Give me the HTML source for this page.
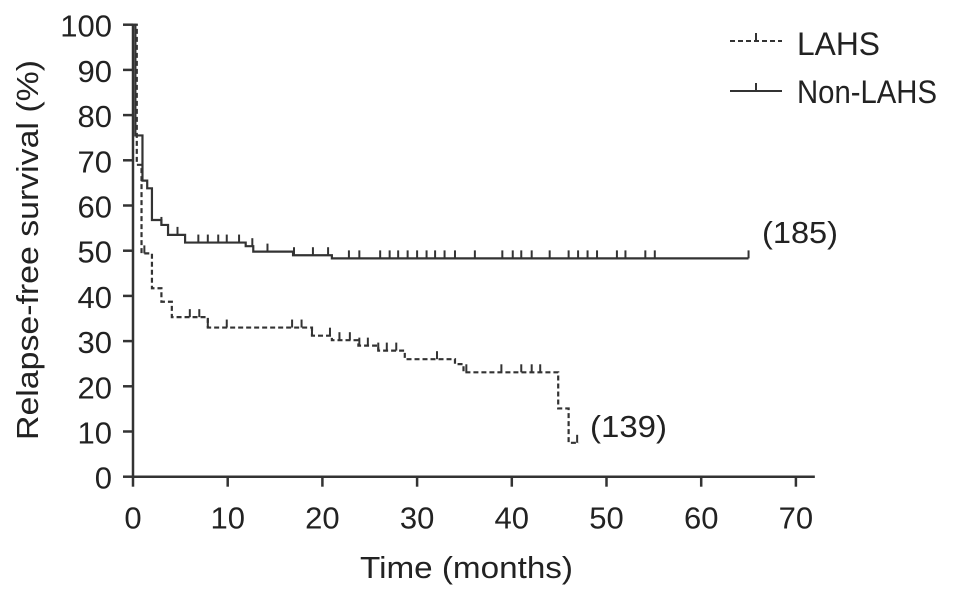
<!DOCTYPE html>
<html><head><meta charset="utf-8"><style>
html,body{margin:0;padding:0;background:#fff;}
svg{display:block;font-family:"Liberation Sans",Arial,sans-serif;}
</style></head><body>
<svg id="chart" width="969" height="598" viewBox="0 0 969 598">
<g id="axes"></g>
<g id="series"></g>
<g>
 <g>
  <line x1="730" y1="41" x2="782" y2="41" stroke="#333" stroke-width="2" stroke-dasharray="5,3"/>
  <line x1="756" y1="41" x2="756" y2="33" stroke="#333" stroke-width="2"/>
  <text x="797" y="55" font-size="32" fill="#222" textLength="83" lengthAdjust="spacingAndGlyphs">LAHS</text>
 </g>
 <g>
  <line x1="730" y1="91" x2="782" y2="91" stroke="#333" stroke-width="2"/>
  <line x1="756" y1="91" x2="756" y2="83" stroke="#333" stroke-width="2"/>
  <text x="797" y="103" font-size="32" fill="#222" textLength="140" lengthAdjust="spacingAndGlyphs">Non-LAHS</text>
 </g>
</g>
<text x="762" y="243" font-size="31" fill="#222" textLength="76" lengthAdjust="spacingAndGlyphs">(185)</text>
<text x="590" y="437" font-size="31" fill="#222" textLength="77" lengthAdjust="spacingAndGlyphs">(139)</text>
<text x="360" y="578" font-size="31" fill="#222" textLength="213" lengthAdjust="spacingAndGlyphs">Time (months)</text>
<text transform="translate(38,250) rotate(-90)" font-size="31" fill="#222" text-anchor="middle" textLength="380" lengthAdjust="spacingAndGlyphs">Relapse-free survival (%)</text>
</svg>
<script>
const xTicks=[0,10,20,30,40,50,60,70];
const yTicks=[0,10,20,30,40,50,60,70,80,90,100];
const nonTimes=[0,0.25,1.0,1.5,2.0,3.0,3.7,5.5,11.9,12.7,16.9,21,65];
const nonVals=[100,75.5,65.5,63.8,56.8,55.7,53.5,51.8,51,49.8,49,48.3,48.3];
const nonCens=[3,4.7,6.9,7.9,9,9.9,11.2,12.6,14.2,17,19,20.6,22.8,23.9,26.1,27.1,28,29,30,31,31.9,32.9,34,36.1,39,40.1,41,42.1,44,46,47,48,49,51.1,52,54.1,55.1,65];
const lahsTimes=[0,0.4,0.9,2.0,3.0,4.1,7.9,18.9,21,23.8,25.9,28.7,34,34.9,44.9,46,47.1];
const lahsVals=[100,69,49.4,41.7,38.7,35.3,33,31.2,30.2,29,27.9,26,24.9,23.1,15.1,7.5,7.5];
const lahsCens=[1.2,6,7,7.9,9.9,16.8,17.8,18.9,20.8,21.8,22.9,23.9,24.8,25.9,26.8,27.8,32.1,35.2,38.9,41,42.1,43,46.9];

const NS='http://www.w3.org/2000/svg';
const X=t=>133+t*9.47;
const Y=v=>476.7-v*4.52;
function el(tag,attrs,parent){const e=document.createElementNS(NS,tag);for(const k in attrs)e.setAttribute(k,attrs[k]);parent.appendChild(e);return e;}
const axes=document.getElementById('axes');
const series=document.getElementById('series');
const xa=el('line',{x1:X(0),y1:Y(0),x2:X(72),y2:Y(0),stroke:'#333','stroke-width':2.5},axes);


const ya=el('line',{x1:X(0),y1:Y(0),x2:X(0),y2:Y(100),stroke:'#333','stroke-width':2.5},axes);


xTicks.forEach(t=>{
 const l=el('line',{x1:X(t),y1:Y(0),x2:X(t),y2:Y(0)+10,stroke:'#333','stroke-width':2.5},axes);
 
 
 const tx=el('text',{x:X(t),y:Y(0)+52,'font-size':31,fill:'#222','text-anchor':'middle'},axes);
 tx.textContent=t;
 
 
});
yTicks.forEach(v=>{
 const l=el('line',{x1:X(0)-10,y1:Y(v),x2:X(0),y2:Y(v),stroke:'#333','stroke-width':2.5},axes);
 
 
 const tx=el('text',{x:X(0)-21,y:Y(v)+12,'font-size':31,fill:'#222','text-anchor':'end'},axes);
 tx.textContent=v;
 
 
});
function valAt(times,vals,t){let v=vals[0];for(let i=0;i<times.length;i++){if(times[i]<=t)v=vals[i];}return v;}
function draw(times,vals,cens,dash,name){
 let d='M'+X(times[0])+','+Y(vals[0]);
 for(let i=1;i<times.length;i++){d+=' H'+X(times[i])+' V'+Y(vals[i]);}
 const p=el('path',{d:d,fill:'none',stroke:'#333','stroke-width':2.2},series);
 if(dash)p.setAttribute('stroke-dasharray','5,3');
 
 
 cens.forEach(t=>{
  const v=valAt(times,vals,t);
  const c=el('line',{x1:X(t),y1:Y(v),x2:X(t),y2:Y(v)-8,stroke:'#333','stroke-width':2},series);
  
  
 });
}
draw(nonTimes,nonVals,nonCens,false,'non-lahs');
draw(lahsTimes,lahsVals,lahsCens,true,'lahs');
</script>
</body></html>
